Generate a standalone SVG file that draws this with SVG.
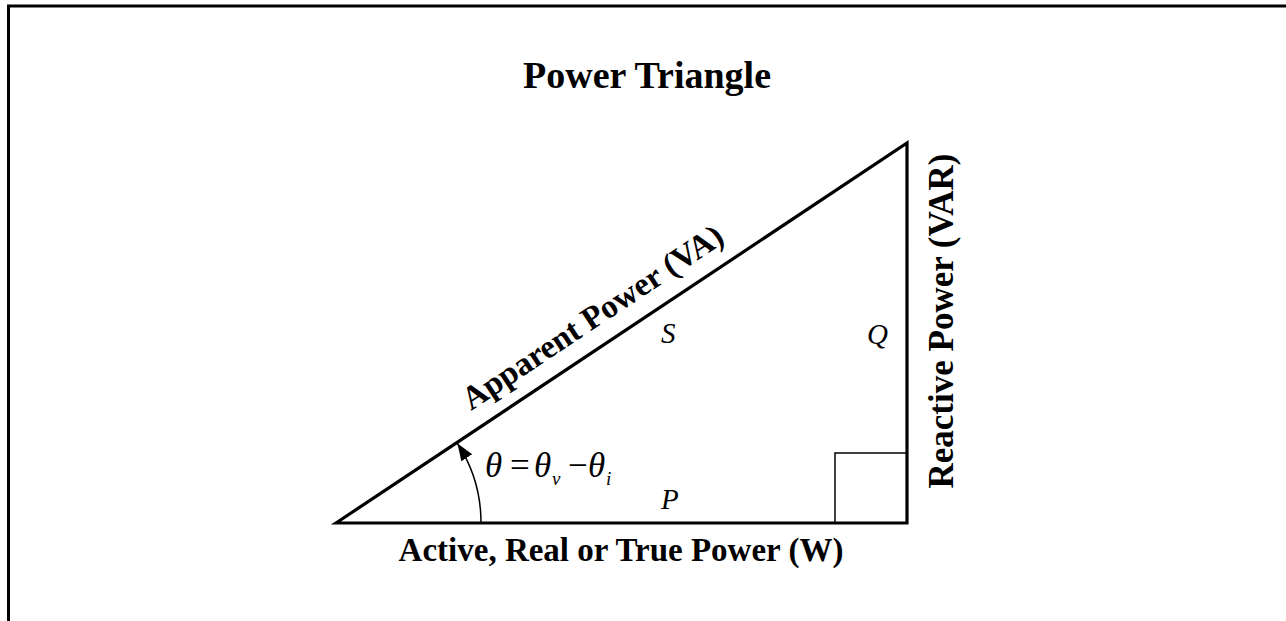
<svg xmlns="http://www.w3.org/2000/svg" width="1286" height="621" viewBox="0 0 1286 621">
<style>
.b{font-family:"Liberation Serif","Times New Roman",serif;font-weight:bold;fill:#000}
.i{font-family:"Liberation Serif","Times New Roman",serif;font-style:italic;fill:#000}
.n{font-family:"Liberation Serif","Times New Roman",serif;fill:#000}
.thick{fill:none;stroke:#000;stroke-width:3.2}
.thin{fill:none;stroke:#000;stroke-width:1.5}
</style>
<defs>
<marker id="arr" markerUnits="userSpaceOnUse" markerWidth="20" markerHeight="16" refX="17" refY="6.5" orient="auto">
<path d="M0,0 L17,6.5 L0,13 Z" fill="#000"/>
</marker>
</defs>
<rect width="1286" height="621" fill="#fff"/>
<path id="frame" d="M8.5,621 V6 H1286" fill="none" stroke="#000" stroke-width="3"/>
<text class="b" x="647" y="88" font-size="38" text-anchor="middle">Power Triangle</text>
<g id="triangle">
<path class="thick" d="M336,523 L907,143 L907,523 Z" stroke-linejoin="miter"/>
<rect class="thin" x="835" y="453" width="72" height="70"/>
</g>
<g id="connectors">
<path class="thin" d="M481,523 A145,145 0 0,0 457.5,443.5" marker-end="url(#arr)"/>
</g>
<g id="labels">
<text class="b" x="621" y="561" font-size="33" text-anchor="middle">Active, Real or True Power (W)</text>
<text class="b" font-size="33" transform="translate(471,411) rotate(-33.64)">Apparent Power (VA)</text>
<text class="b" font-size="35" text-anchor="middle" transform="translate(953,321) rotate(-90)">Reactive Power (VAR)</text>
<text class="i" x="661" y="343" font-size="29">S</text>
<text class="i" x="867" y="344" font-size="29">Q</text>
<text class="i" x="661" y="509" font-size="29">P</text>
<g id="formula">
<text class="i" x="485" y="477" font-size="35">θ</text>
<text class="n" x="510" y="477" font-size="35">=</text>
<text class="i" x="534" y="477" font-size="35">θ</text>
<text class="i" x="552" y="485" font-size="19">v</text>
<text class="n" x="568" y="477" font-size="35">−</text>
<text class="i" x="588" y="477" font-size="35">θ</text>
<text class="i" x="606" y="485" font-size="19">i</text>
</g>
</g>
</svg>
